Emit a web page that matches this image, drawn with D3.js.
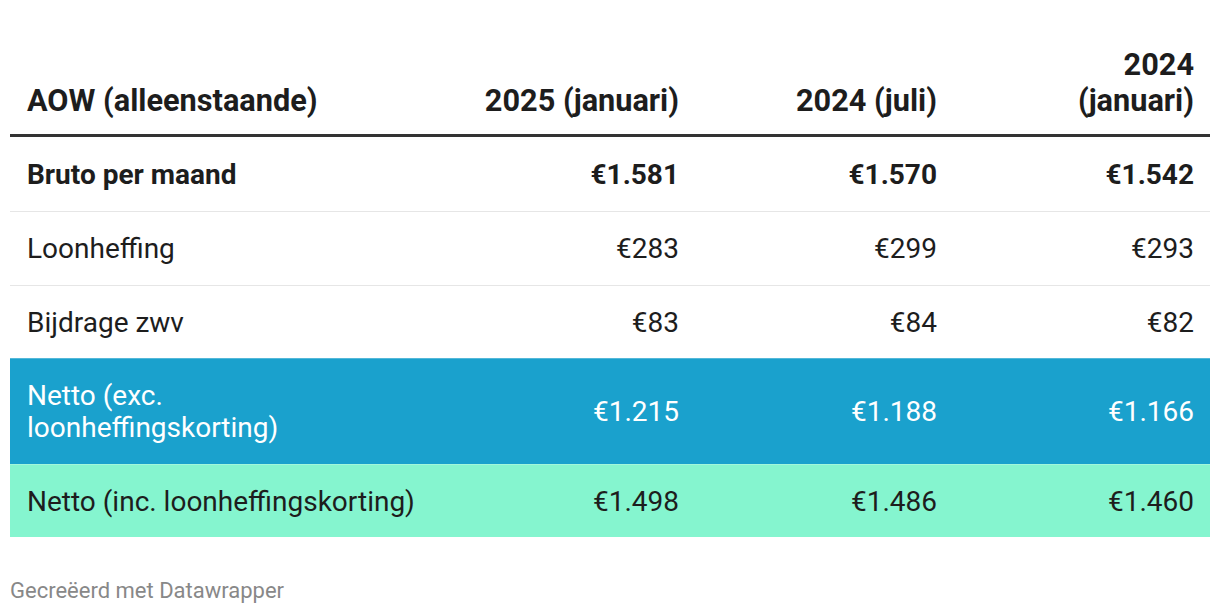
<!DOCTYPE html>
<html>
<head>
<meta charset="utf-8">
<script src="https://cdn.jsdelivr.net/npm/d3@7"></script>
<style>
  body { margin: 0; background: #fff; }
  svg text { font-family: Roboto, "Noto Sans", sans-serif; }
</style>
</head>
<body>
<svg id="chart" width="1220" height="614"></svg>
<script>
// table data
let headerLabel = "AOW (alleenstaande)";
let columns = [["2025 (januari)"], ["2024 (juli)"], ["2024", "(januari)"]];
let rowLabels = [["Bruto per maand"], ["Loonheffing"], ["Bijdrage zwv"],
                 ["Netto (exc.", "loonheffingskorting)"], ["Netto (inc. loonheffingskorting)"]];
let jan2025 = ["€1.581", "€283", "€83", "€1.215", "€1.498"];
let jul2024 = ["€1.570", "€299", "€84", "€1.188", "€1.486"];
let jan2024 = ["€1.542", "€293", "€82", "€1.166", "€1.460"];

let values = [jan2025, jul2024, jan2024];
let rowHeights = [74, 74, 73, 106, 73];
let rowFill = [null, null, null, "#1aa1cd", "#85f5cf"];
let rowText = ["#1d1d1d", "#1d1d1d", "#1d1d1d", "#ffffff", "#1d1d1d"];
let rowBold = [true, false, false, false, false];

let svg = d3.select("#chart");
let tLeft = 10, tRight = 1210, tTop = 137;

// column right edges
let colX = d3.scaleOrdinal()
  .domain(d3.range(columns.length))
  .range([679, 937, 1194]);

let rowY = [tTop];
rowHeights.forEach((h, i) => rowY.push(rowY[i] + h));

// header
let headBase = 111;
let lineH = 36;
svg.append("text")
  .attr("x", 27).attr("y", headBase)
  .style("font-size", "30.7px").style("font-weight", 700).style("fill", "#1d1d1d")
  .text(headerLabel);

columns.forEach((c, i) => {
  c.forEach((t, j) => {
    svg.append("text")
      .attr("x", colX(i))
      .attr("y", headBase - (c.length - 1 - j) * lineH)
      .attr("text-anchor", "end")
      .style("font-size", "30.7px").style("font-weight", 700).style("fill", "#1d1d1d")
      .text(t);
  });
});

// rows
rowLabels.forEach((lab, r) => {
  let y0 = rowY[r], h = rowHeights[r];
  if (rowFill[r]) {
    svg.append("rect")
      .attr("x", tLeft).attr("y", y0)
      .attr("width", tRight - tLeft).attr("height", h)
      .style("fill", rowFill[r]);
  }
  if (r > 0) {
    svg.append("line")
      .attr("x1", tLeft).attr("x2", tRight)
      .attr("y1", y0 + 0.5).attr("y2", y0 + 0.5)
      .style("stroke", r >= 3 ? "rgba(255,255,255,0.25)" : "#e6e6e6")
      .style("stroke-width", 1);
  }
  let mid = y0 + h / 2;
  let lh = 32;
  lab.forEach((t, j) => {
    svg.append("text")
      .attr("x", 27)
      .attr("y", mid + 10 + (j - (lab.length - 1) / 2) * lh)
      .style("font-size", "28px")
      .style("font-weight", rowBold[r] ? 700 : 400)
      .style("fill", rowText[r])
      .text(t);
  });
  values.forEach((col, c) => {
    svg.append("text")
      .attr("x", colX(c))
      .attr("y", mid + 10)
      .attr("text-anchor", "end")
      .style("font-size", "28px")
      .style("font-weight", rowBold[r] ? 700 : 400)
      .style("fill", rowText[r])
      .text(col[r]);
  });
});

// header rule
svg.append("rect")
  .attr("x", tLeft).attr("y", tTop - 3)
  .attr("width", tRight - tLeft).attr("height", 3)
  .style("fill", "#333");

// footer
svg.append("text")
  .attr("x", 10).attr("y", 598)
  .style("font-size", "22px").style("fill", "#888")
  .text("Gecreëerd met Datawrapper");
</script>
</body>
</html>
